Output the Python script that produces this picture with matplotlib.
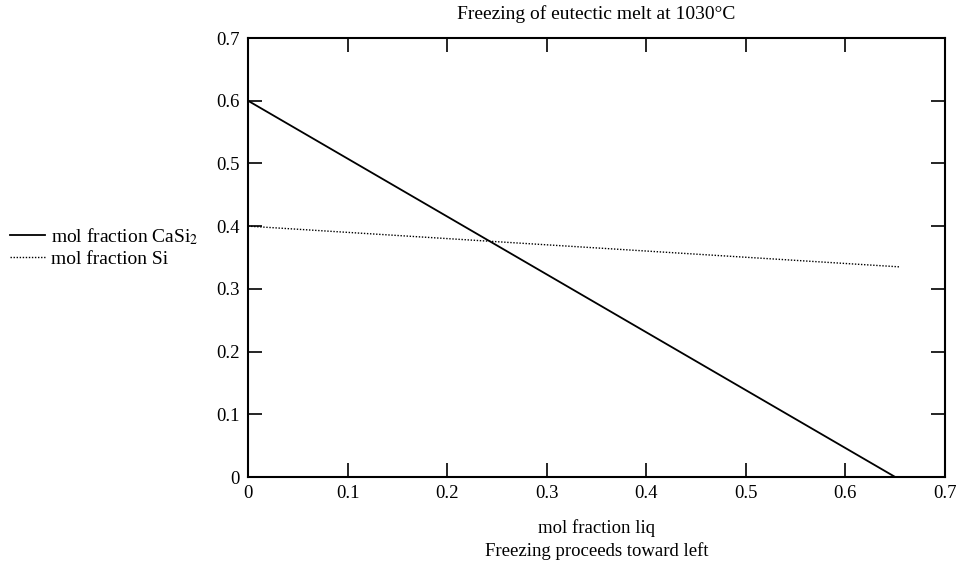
import matplotlib
matplotlib.use("Agg")
import matplotlib.pyplot as plt

x_casi2 = [0.0, 0.65]
y_casi2 = [0.60, 0.0]
x_si = [0.0, 0.655]
y_si = [0.40, 0.335]
ticks = [0, 0.1, 0.2, 0.3, 0.4, 0.5, 0.6, 0.7]
tick_labels = ["0", "0.1", "0.2", "0.3", "0.4", "0.5", "0.6", "0.7"]

plt.rcParams['font.family'] = ['Liberation Serif', 'DejaVu Serif']
plt.rcParams['mathtext.fontset'] = 'stix'

fig = plt.figure(figsize=(9.58, 5.63), dpi=100)
ax = fig.add_axes([248/958, 1-477/563, (945-248)/958, (477-38)/563])

l1, = ax.plot(x_casi2, y_casi2, color='black', lw=1.3, label='mol fraction CaSi$_2$')
l2, = ax.plot(x_si, y_si, color='black', lw=1.0, linestyle=(0, (1, 1.2)), label='mol fraction Si')

ax.set_xlim(0, 0.7)
ax.set_ylim(0, 0.7)
ax.set_xticks(ticks)
ax.set_xticklabels(tick_labels)
ax.set_yticks(ticks)
ax.set_yticklabels(tick_labels)
ax.tick_params(direction='in', length=10, width=1.2, top=True, right=True,
               labelsize=13.5, pad=6)
for s in ax.spines.values():
    s.set_linewidth(1.5)

ax.set_title('Freezing of eutectic melt at 1030°C', fontsize=14, pad=14)
ax.set_xlabel('mol fraction liq\nFreezing proceeds toward left', fontsize=13.5,
              labelpad=12, linespacing=1.35)

fig.legend(handles=[l1, l2], loc='center left', bbox_to_anchor=(0.0, 1-247/563),
           frameon=False, fontsize=14, handlelength=1.8, handletextpad=0.3,
           labelspacing=0.2, borderaxespad=0.1)

fig.savefig('out.png', dpi=100)
